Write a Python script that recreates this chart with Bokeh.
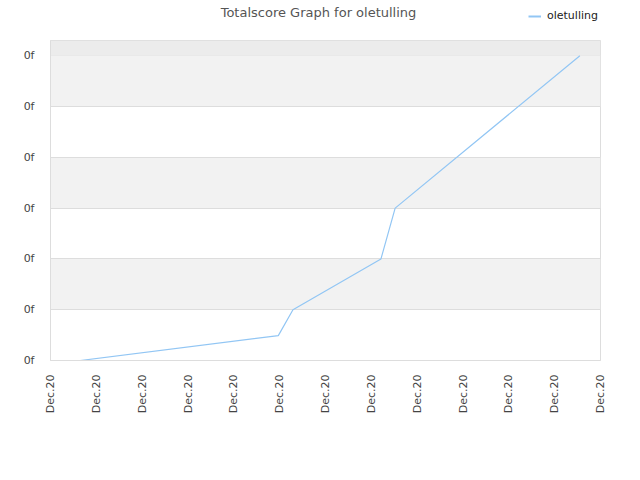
from bokeh.plotting import figure
from bokeh.layouts import column
from bokeh.models import Legend, LegendItem, FixedTicker, BoxAnnotation, Label
from bokeh.embed import file_html
from bokeh.resources import INLINE

# data (x in tick-interval units, y in gridline units)
times = [0.65, 4.97, 5.29, 7.21, 7.52, 11.55]
scores = [0.0, 0.49, 1.0, 2.0, 3.0, 6.0]
x_ticks = list(range(0, 13))
x_tick_labels = ["Dec.20"] * len(x_ticks)
y_ticks = list(range(0, 7))
y_tick_labels = ["0f"] * len(y_ticks)
series_name = "oletulling"
title_text = "Totalscore Graph for oletulling"

FONT = "DejaVu Sans"
LINE_COLOR = "#92c6f4"

# ---- header: title + legend (series drawn off-view, only its legend sample shows) ----
h = figure(width=640, height=40, output_backend="svg", toolbar_location=None,
           x_range=(0, 1), y_range=(-2, -1),
           x_axis_location=None, y_axis_location=None, title_location=None)
h.min_border = 0
h.min_border_left = 0
h.min_border_right = 0
h.outline_line_color = None
h.background_fill_color = "white"
h.border_fill_color = "white"
h.xgrid.visible = False
h.ygrid.visible = False

h.add_layout(Label(x=268, y=28, x_units="screen", y_units="screen", text=title_text,
                   text_align="center", text_baseline="middle", text_font=FONT,
                   text_font_size="13px", text_color="#555555"))

hr = h.line(times, scores, line_color=LINE_COLOR, line_width=2)
legend = Legend(items=[LegendItem(label=series_name, renderers=[hr])],
                orientation="horizontal", location=(478, 18),
                background_fill_alpha=0, border_line_color=None,
                label_text_font=FONT, label_text_font_size="11px", label_text_color="#222222",
                glyph_width=13, glyph_height=10, padding=0, margin=0, spacing=0,
                label_standoff=6)
h.add_layout(legend)

# ---- main chart ----
p = figure(width=640, height=440, output_backend="svg", toolbar_location=None,
           x_range=(x_ticks[0], x_ticks[-1]), y_range=(y_ticks[0], 6.3),
           title_location=None)
p.min_border_left = 50
p.min_border_right = 40
p.min_border_top = 0
p.min_border_bottom = 120
p.background_fill_color = "white"
p.border_fill_color = "white"
p.outline_line_color = "#dddddd"

p.xaxis.ticker = FixedTicker(ticks=x_ticks)
p.xaxis.major_label_overrides = {t: l for t, l in zip(x_ticks, x_tick_labels)}
p.xaxis.major_label_orientation = 1.5708
p.xaxis.major_tick_line_color = None
p.xaxis.minor_tick_line_color = None
p.xaxis.axis_line_color = "#dddddd"
p.xaxis.major_label_text_font = FONT
p.xaxis.major_label_text_font_size = "11px"
p.xaxis.major_label_text_color = "#444444"
p.xaxis.major_label_standoff = 8

p.yaxis.ticker = FixedTicker(ticks=y_ticks)
p.yaxis.major_label_overrides = {t: l for t, l in zip(y_ticks, y_tick_labels)}
p.yaxis.major_tick_line_color = None
p.yaxis.minor_tick_line_color = None
p.yaxis.axis_line_color = "#dddddd"
p.yaxis.major_label_text_font = FONT
p.yaxis.major_label_text_font_size = "11px"
p.yaxis.major_label_text_color = "#444444"
p.yaxis.major_label_standoff = 10

p.xgrid.grid_line_color = None
p.ygrid.ticker = FixedTicker(ticks=y_ticks)
p.ygrid.grid_line_color = "#dddddd"
p.ygrid.band_fill_color = "#f2f2f2"
p.ygrid.band_fill_alpha = 1.0

p.add_layout(BoxAnnotation(bottom=y_ticks[-1], fill_color="#ececec", fill_alpha=1.0,
                           line_color=None, level="underlay"))

p.line(times, scores, line_color=LINE_COLOR, line_width=1.2)

layout = column(h, p, spacing=0)
open("out.html", "w").write(file_html(layout, INLINE))
